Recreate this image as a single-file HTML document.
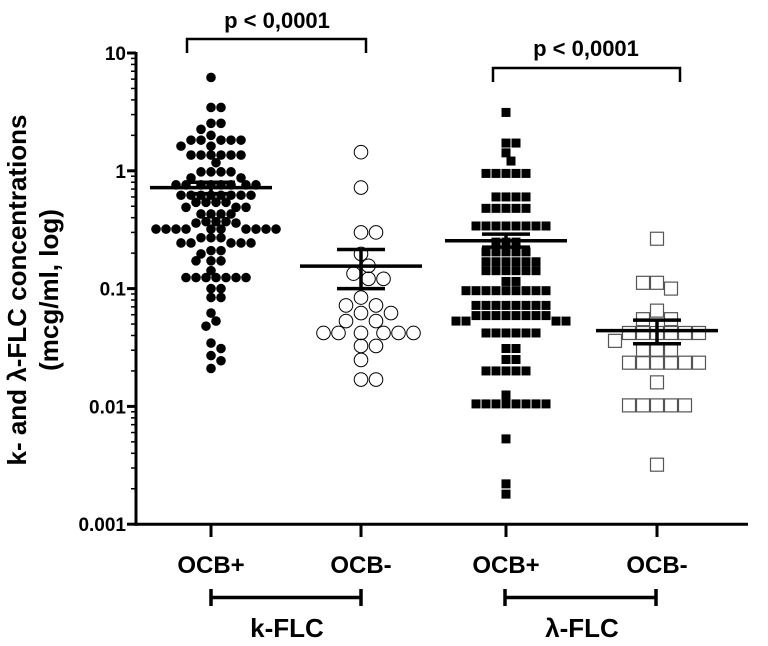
<!DOCTYPE html>
<html><head><meta charset="utf-8"><style>
body{margin:0;background:#fff}
svg text{font-family:"Liberation Sans",sans-serif;font-weight:bold;fill:#000}
</style></head><body>
<svg id="chart" width="768" height="641" viewBox="0 0 768 641" xmlns="http://www.w3.org/2000/svg">
<g id="axes"></g>
<g id="marks"></g>
<g>
<path d="M187 53 V39 H366 V53" fill="none" stroke="#000" stroke-width="2.5"/>
<text x="277" y="28" font-size="22" text-anchor="middle">p &lt; 0,0001</text>
<path d="M493 82 V68 H680 V82" fill="none" stroke="#000" stroke-width="2.5"/>
<text x="586" y="56" font-size="22" text-anchor="middle">p &lt; 0,0001</text>
<path d="M211 589 V606 M211 597.5 H361 M361 589 V606" fill="none" stroke="#000" stroke-width="3.5"/>
<text x="287" y="637" font-size="26" text-anchor="middle">k-FLC</text>
<path d="M505 589 V606 M505 597.5 H656 M656 589 V606" fill="none" stroke="#000" stroke-width="3.5"/>
<text x="582" y="637" font-size="26" text-anchor="middle">λ-FLC</text>
<text transform="translate(26,290) rotate(-90)" font-size="26" text-anchor="middle">k- and λ-FLC concentrations</text>
<text transform="translate(58,290) rotate(-90)" font-size="26" text-anchor="middle">(mcg/ml, log)</text>
</g>
</svg>
<script>
const categories = ["OCB+","OCB-","OCB+","OCB-"];
const tickValues = [10,1,0.1,0.01,0.001];
const tickLabels = ["10","1","0.1","0.01","0.001"];
const kPos = [6.2,3.45,3.45,2.53,2.53,2.25,2.0,1.82,1.82,1.82,1.82,1.82,1.62,1.62,1.36,1.36,1.36,1.36,1.36,1.36,1.17,0.98,0.98,0.98,0.98,0.87,0.87,0.76,0.76,0.76,0.76,0.76,0.76,0.76,0.76,0.62,0.62,0.62,0.62,0.62,0.62,0.62,0.62,0.54,0.54,0.54,0.54,0.49,0.49,0.49,0.43,0.43,0.43,0.43,0.37,0.37,0.37,0.36,0.36,0.32,0.32,0.32,0.32,0.32,0.32,0.32,0.32,0.32,0.32,0.27,0.27,0.27,0.244,0.244,0.244,0.244,0.244,0.21,0.21,0.197,0.172,0.172,0.172,0.142,0.124,0.124,0.124,0.124,0.124,0.124,0.124,0.1,0.1,0.084,0.084,0.062,0.053,0.048,0.0345,0.031,0.027,0.0244,0.021];
const kNeg = [1.44,0.72,0.30,0.30,0.197,0.156,0.134,0.121,0.121,0.084,0.072,0.072,0.062,0.062,0.053,0.053,0.042,0.042,0.042,0.042,0.042,0.042,0.0326,0.0326,0.0248,0.0169,0.0169];
const lPos = [3.13,1.72,1.72,1.42,1.21,0.95,0.95,0.95,0.95,0.95,0.6,0.6,0.6,0.6,0.48,0.48,0.48,0.48,0.48,0.34,0.34,0.34,0.34,0.34,0.34,0.34,0.34,0.248,0.248,0.248,0.205,0.205,0.205,0.205,0.205,0.169,0.169,0.169,0.169,0.169,0.169,0.142,0.142,0.142,0.142,0.142,0.142,0.115,0.115,0.096,0.096,0.096,0.096,0.096,0.096,0.096,0.096,0.096,0.072,0.072,0.072,0.072,0.072,0.072,0.072,0.072,0.059,0.059,0.059,0.059,0.059,0.059,0.059,0.059,0.053,0.053,0.053,0.053,0.042,0.042,0.042,0.042,0.042,0.042,0.031,0.031,0.025,0.025,0.020,0.020,0.020,0.020,0.020,0.0125,0.0105,0.0105,0.0105,0.0105,0.0105,0.0105,0.0105,0.0105,0.0053,0.0022,0.0018];
const lNeg = [0.265,0.112,0.10,0.112,0.065,0.055,0.055,0.042,0.042,0.042,0.042,0.042,0.042,0.036,0.030,0.030,0.030,0.0235,0.0235,0.0235,0.0235,0.0235,0.0235,0.016,0.0102,0.0102,0.0102,0.0102,0.0102,0.0032];
const means = [0.72,0.155,0.255,0.044];
const semLow = [0.64,0.10,0.225,0.034];
const semHigh = [0.80,0.215,0.29,0.054];

const NS="http://www.w3.org/2000/svg";
const Y0=53, DEC=117.8, AX=136;
function yScale(v){return Y0+(1-Math.log10(v))*DEC;}
function xScale(i){return [211,361,506,657][i];}
function mk(tag,attrs,parent){const e=document.createElementNS(NS,tag);for(const k in attrs)e.setAttribute(k,attrs[k]);parent.appendChild(e);return e;}
const axes=document.getElementById('axes'), marks=document.getElementById('marks');

const yAxis=mk('line',{x1:AX,x2:AX,y1:yScale(10)-1,y2:yScale(0.001)+1.5,stroke:'#000','stroke-width':3},axes);


const xAxis=mk('line',{x1:AX,x2:748,y1:yScale(0.001),y2:yScale(0.001),stroke:'#000','stroke-width':3},axes);


for(let d=0.001; d<10; d*=10){
  for(let m=2;m<10;m++){
    const mt=mk('line',{x1:AX-5,x2:AX,y1:yScale(d*m),y2:yScale(d*m),stroke:'#000','stroke-width':1.5},axes);
    
    
  }
}
tickValues.forEach((v,i)=>{
  const t=mk('line',{x1:AX-9,x2:AX,y1:yScale(v),y2:yScale(v),stroke:'#000','stroke-width':3},axes);
  
  
  const l=mk('text',{x:AX-10,y:yScale(v)+7,'font-size':19,'text-anchor':'end'},axes);
  l.textContent=tickLabels[i];
  
  
});
categories.forEach((c,i)=>{
  const t=mk('line',{x1:xScale(i),x2:xScale(i),y1:yScale(0.001),y2:537,stroke:'#000','stroke-width':3},axes);
  
  
  const l=mk('text',{x:xScale(i),y:573,'font-size':24,'text-anchor':'middle'},axes);
  l.textContent=c;
  
  
});

function swarm(vals,cx,diam){
  const placed=[];
  vals.forEach(v=>{
    const y=yScale(v);
    for(let k=0;k<80;k++){
      const off=(k%2?1:-1)*Math.ceil(k/2)*diam*0.5;
      const x=cx+off;
      if(placed.every(p=>Math.hypot(p.x-x,p.y-y)>=diam*0.82)){placed.push({x,y});break;}
    }
  });
  return placed;
}
const groups=[kPos,kNeg,lPos,lNeg];
groups.forEach((vals,gi)=>{
  const square=gi>=2, filled=gi%2===0;
  const diam=square?(filled?10:14):(filled?10:15);
  swarm(vals,xScale(gi),diam).forEach(p=>{
    let e;
    if(square){
      const s=filled?9:13;
      e=mk('rect',{x:p.x-s/2,y:p.y-s/2,width:s,height:s,fill:filled?'#000':'none',stroke:filled?'none':'#555','stroke-width':1.2},marks);
    } else {
      e=mk('circle',{cx:p.x,cy:p.y,r:filled?4.8:6.8,fill:filled?'#000':'none',stroke:filled?'none':'#000','stroke-width':1},marks);
    }
    
    
  });
});
means.forEach((m,i)=>{
  const cx=xScale(i);
  const ml=mk('line',{x1:cx-61,x2:cx+61,y1:yScale(m),y2:yScale(m),stroke:'#000','stroke-width':3.5},marks);
  
  
  const eb=mk('path',{d:`M${cx} ${yScale(semHigh[i])} V${yScale(semLow[i])} M${cx-24} ${yScale(semHigh[i])} H${cx+24} M${cx-24} ${yScale(semLow[i])} H${cx+24}`,stroke:'#000','stroke-width':3.5,fill:'none'},marks);
  
  
});
</script>
</body></html>
